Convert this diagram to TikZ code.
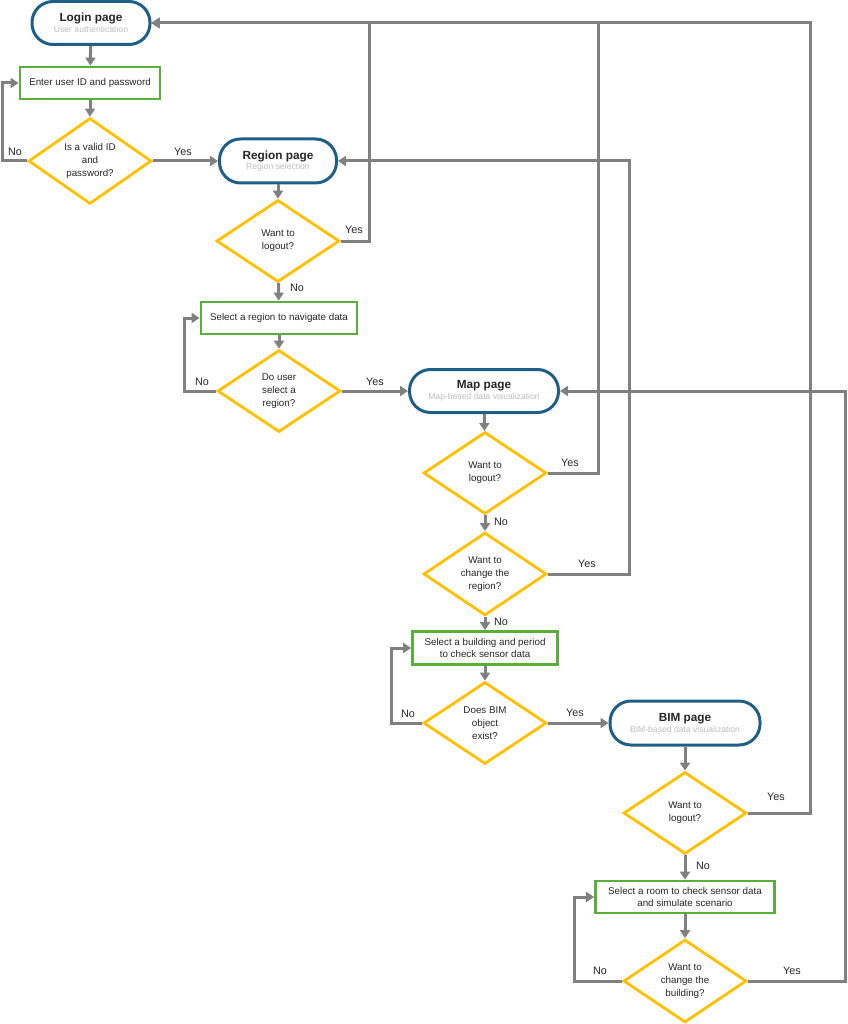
\documentclass[tikz,border=0pt]{standalone}
\usepackage{fontspec}
\setmainfont{Liberation Sans}
\usetikzlibrary{shapes.geometric,arrows.meta}
\definecolor{pillblue}{HTML}{1F5F85}
\definecolor{boxgreen}{HTML}{5AAE3C}
\definecolor{dyellow}{HTML}{FFC000}
\definecolor{conngray}{HTML}{808080}
\definecolor{subgray}{HTML}{BDBDBD}
\definecolor{txt}{HTML}{262626}
\begin{document}
\begin{tikzpicture}[x=1pt,y=-1pt,
  pill/.style={rectangle, rounded corners=21pt, draw=pillblue, line width=3pt, fill=white,
    minimum height=43pt, align=center, inner sep=0pt, text=txt},
  stepbox/.style={rectangle, draw=boxgreen, line width=2.8pt, fill=white, minimum height=32pt,
    align=center, inner sep=0pt, text=txt, font=\fontsize{9.8}{12.5}\selectfont},
  decide/.style={diamond, draw=dyellow, line width=2.8pt, fill=white, minimum width=123pt,
    minimum height=82pt, inner sep=0pt, align=center, text=txt, font=\fontsize{9.8}{12.8}\selectfont},
  conn/.style={draw=conngray, line width=3pt, -{Triangle[length=8pt,width=10pt]}},
  lbl/.style={text=txt, font=\fontsize{10.8}{12}\selectfont, inner sep=0pt},
]
\newcommand{\pilltext}[2]{{\fontsize{11.8}{15}\selectfont\bfseries #1}\\[-1.5pt]{\fontsize{8.6}{10}\selectfont\color{subgray}#2}}
\useasboundingbox (0,0) rectangle (847,1024);

% nodes
\node[pill, minimum width=118pt] (login) at (91,23) {\pilltext{Login page}{User authentication}};
\node[stepbox, minimum width=140pt] (enter) at (90,83) {Enter user ID and password};
\node[decide] (d1) at (90,161) {Is a valid ID\\and\\password?};
\node[pill, minimum width=117pt, minimum height=44pt] (region) at (278,161) {\pilltext{Region page}{Region selection}};
\node[decide] (d2) at (278,241) {Want to\\logout?};
\node[stepbox, minimum width=156pt] (sel1) at (279,318) {Select a region to navigate data};
\node[decide] (d3) at (279,391) {Do user\\select a\\region?};
\node[pill, minimum width=149pt] (map) at (484,391) {\pilltext{Map page}{Map-based data visualization}};
\node[decide] (d4) at (485,473) {Want to\\logout?};
\node[decide] (d5) at (485,574) {Want to\\change the\\region?};
\node[stepbox, minimum width=145pt, minimum height=33pt] (sel2) at (485,648) {Select a building and period\\to check sensor data};
\node[decide] (d6) at (485,723) {Does BIM\\object\\exist?};
\node[pill, minimum width=150pt, minimum height=44pt] (bim) at (685,723) {\pilltext{BIM page}{BIM-based data visualization}};
\node[decide] (d7) at (685,813) {Want to\\logout?};
\node[stepbox, minimum width=179pt] (sel3) at (685,897) {Select a room to check sensor data\\and simulate scenario};
\node[decide] (d8) at (685,981) {Want to\\change the\\building?};

% helper coordinates
\coordinate (c1) at (2,161);
\coordinate (c2) at (369,23);
\coordinate (c3) at (184,391);
\coordinate (c4) at (598,23);
\coordinate (c5) at (629,161);
\coordinate (c6) at (391,723);
\coordinate (c7) at (810,23);
\coordinate (c8) at (574,981);
\coordinate (c9) at (845,391);

% connectors
\draw[conn] (login) -- (enter);
\draw[conn] (enter) -- (d1);
\draw[conn] (d1.west) -- (c1) |- (enter.west);
\draw[conn] (d1.east) -- (region.west);
\draw[conn] (region) -- (d2);
\draw[conn] (d2.east) -| (c2) -- (login.east);
\draw[conn] (d2) -- (sel1);
\draw[conn] (sel1) -- (d3);
\draw[conn] (d3.west) -- (c3) |- (sel1.west);
\draw[conn] (d3.east) -- (map.west);
\draw[conn] (map) -- (d4);
\draw[conn] (d4.east) -| (c4) -- (login.east);
\draw[conn] (d4) -- (d5);
\draw[conn] (d5.east) -| (c5) -- (region.east);
\draw[conn] (d5) -- (sel2);
\draw[conn] (sel2) -- (d6);
\draw[conn] (d6.west) -- (c6) |- (sel2.west);
\draw[conn] (d6.east) -- (bim.west);
\draw[conn] (bim) -- (d7);
\draw[conn] (d7.east) -| (c7) -- (login.east);
\draw[conn] (d7) -- (sel3);
\draw[conn] (sel3) -- (d8);
\draw[conn] (d8.west) -- (c8) |- (sel3.west);
\draw[conn] (d8.east) -| (c9) -- (map.east);

% labels
\node[lbl] (l1) at (15,152) {No};
\node[lbl] (l2) at (183,152) {Yes};
\node[lbl] (l3) at (354,230) {Yes};
\node[lbl] (l4) at (297,288) {No};
\node[lbl] (l5) at (202,382) {No};
\node[lbl] (l6) at (375,382) {Yes};
\node[lbl] (l7) at (570,463) {Yes};
\node[lbl] (l8) at (501,522) {No};
\node[lbl] (l9) at (587,564) {Yes};
\node[lbl] (l10) at (501,622) {No};
\node[lbl] (l11) at (408,714) {No};
\node[lbl] (l12) at (575,713) {Yes};
\node[lbl] (l13) at (776,797) {Yes};
\node[lbl] (l14) at (703,866) {No};
\node[lbl] (l15) at (600,971) {No};
\node[lbl] (l16) at (792,971) {Yes};
\end{tikzpicture}
\end{document}
